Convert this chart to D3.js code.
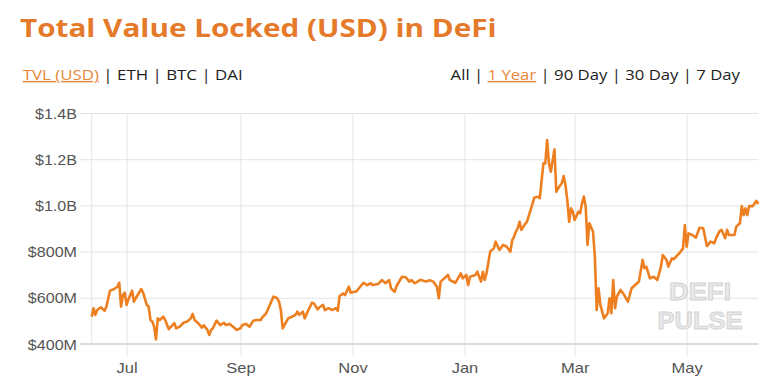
<!DOCTYPE html>
<html><head><meta charset="utf-8">
<script src="https://cdn.jsdelivr.net/npm/d3@7"></script>
<style>body{margin:0;background:#fff;} svg{display:block}</style>
</head><body>
<svg id="c" width="775" height="391"></svg>
<script>
const title = "Total Value Locked (USD) in DeFi";
const metricTabs = ["TVL (USD)", "ETH", "BTC", "DAI"];
const rangeTabs = ["All", "1 Year", "90 Day", "30 Day", "7 Day"];
const yTickValues = [400, 600, 800, 1000, 1200, 1400];
const yTickLabels = ["$400M", "$600M", "$800M", "$1.0B", "$1.2B", "$1.4B"];
const watermark = ["DEFI", "PULSE"];

const dates = [
"2019-06-12","2019-06-13","2019-06-14","2019-06-15","2019-06-17","2019-06-19","2019-06-20","2019-06-22","2019-06-24","2019-06-26",
"2019-06-27","2019-06-28","2019-06-29","2019-06-30","2019-07-01","2019-07-02","2019-07-04","2019-07-05","2019-07-06","2019-07-09",
"2019-07-10","2019-07-12","2019-07-13","2019-07-14","2019-07-15","2019-07-16","2019-07-17","2019-07-18","2019-07-19","2019-07-21",
"2019-07-22","2019-07-24","2019-07-26","2019-07-27","2019-07-28","2019-07-30","2019-08-01","2019-08-03","2019-08-05","2019-08-06",
"2019-08-07","2019-08-09","2019-08-11","2019-08-12","2019-08-14","2019-08-15","2019-08-16","2019-08-17","2019-08-19","2019-08-21",
"2019-08-23","2019-08-24","2019-08-26","2019-08-28","2019-08-30","2019-09-01","2019-09-02","2019-09-04","2019-09-06","2019-09-08",
"2019-09-10","2019-09-12","2019-09-13","2019-09-15","2019-09-17","2019-09-19","2019-09-21","2019-09-22","2019-09-23","2019-09-24",
"2019-09-26","2019-09-27","2019-09-29","2019-10-01","2019-10-02","2019-10-03","2019-10-05","2019-10-06","2019-10-08","2019-10-10",
"2019-10-11","2019-10-13","2019-10-14","2019-10-16","2019-10-17","2019-10-19","2019-10-21","2019-10-23","2019-10-24","2019-10-25",
"2019-10-27","2019-10-28","2019-10-30","2019-10-31","2019-11-02","2019-11-03","2019-11-07","2019-11-09","2019-11-11","2019-11-12",
"2019-11-15","2019-11-17","2019-11-19","2019-11-21","2019-11-22","2019-11-24","2019-11-25","2019-11-28","2019-11-30","2019-12-02",
"2019-12-03","2019-12-05","2019-12-08","2019-12-11","2019-12-13","2019-12-15","2019-12-17","2019-12-18","2019-12-19","2019-12-21",
"2019-12-23","2019-12-24","2019-12-27","2019-12-30","2019-12-31","2020-01-02","2020-01-03","2020-01-04","2020-01-07","2020-01-08",
"2020-01-10","2020-01-11","2020-01-12","2020-01-13","2020-01-15","2020-01-17","2020-01-18","2020-01-20","2020-01-22","2020-01-24",
"2020-01-26","2020-01-27","2020-01-28","2020-01-29","2020-01-30","2020-01-31","2020-02-01","2020-02-03","2020-02-04","2020-02-06",
"2020-02-08","2020-02-10","2020-02-11","2020-02-13","2020-02-14","2020-02-15","2020-02-16","2020-02-17","2020-02-19","2020-02-20",
"2020-02-21","2020-02-23","2020-02-24","2020-02-25","2020-02-26","2020-02-27","2020-02-28","2020-02-29","2020-03-01","2020-03-03",
"2020-03-04","2020-03-05","2020-03-06","2020-03-07","2020-03-08","2020-03-09","2020-03-11","2020-03-12","2020-03-13","2020-03-14",
"2020-03-15","2020-03-17","2020-03-19","2020-03-20","2020-03-21","2020-03-22","2020-03-23","2020-03-24","2020-03-26","2020-03-28",
"2020-03-30","2020-04-01","2020-04-04","2020-04-05","2020-04-07","2020-04-08","2020-04-09","2020-04-11","2020-04-13","2020-04-15",
"2020-04-16","2020-04-17","2020-04-18","2020-04-20","2020-04-21","2020-04-23","2020-04-24","2020-04-26","2020-04-27","2020-04-29",
"2020-04-30","2020-05-01","2020-05-02","2020-05-04","2020-05-06","2020-05-08","2020-05-10","2020-05-12","2020-05-14","2020-05-16",
"2020-05-17","2020-05-19","2020-05-20","2020-05-22","2020-05-23","2020-05-24","2020-05-27","2020-05-28","2020-05-30","2020-05-31",
"2020-06-01","2020-06-02","2020-06-03","2020-06-04","2020-06-06","2020-06-08","2020-06-09"
];
// TVL in millions of USD
const tvl = [
518,555,526,547,559,544,562,631,637,648,
665,562,612,622,569,594,631,583,598,638,
622,569,562,504,497,475,420,511,504,518,
504,464,482,490,468,475,492,497,511,530,
504,490,471,481,461,439,461,468,501,482,
492,482,487,475,461,468,482,487,475,501,
504,504,516,533,569,605,598,583,547,468,
497,511,518,526,540,526,540,511,547,579,
576,550,559,569,547,555,547,555,544,608,
619,612,648,622,626,626,665,655,663,655,
660,677,663,677,641,626,651,691,689,670,
677,663,678,670,676,670,648,598,670,684,
699,677,665,706,684,699,655,691,699,713,
670,713,677,706,800,814,843,807,829,821,
800,850,865,886,901,929,894,920,929,980,
1033,1038,1031,1182,1182,1283,1182,1146,1243,1059,
1074,1096,1127,1088,1023,929,987,973,937,973,
966,1009,1038,994,829,923,886,778,547,641,
569,511,533,598,533,677,555,605,634,612,
583,641,663,670,764,728,735,684,691,677,
706,735,785,764,735,771,767,785,793,814,
915,821,879,872,860,903,901,824,843,836,
858,890,894,858,894,872,872,908,923,997,
958,987,958,997,997,1020,1006
];

(function () {
const svg = d3.select("#c");
const parse = d3.timeParse("%Y-%m-%d");
const data = dates.map((d, i) => ({ date: parse(d), v: tvl[i] }));

const pLeft = 91.7, pRight = 758.3, pTop = 113, pBottom = 344;
const x = d3.scaleTime().domain(d3.extent(data, d => d.date)).range([pLeft, pRight]);
const y = d3.scaleLinear().domain([400, 1400]).range([pBottom, pTop]);

const gridColor = "#e4e4e4";
const labelColor = "#555555";
const orange = "#ee7f20";

function fitX(sel, targetW, anchorX, anchorY) {
  const w = sel.node().getBBox().width;
  const k = targetW / w;
  sel.attr("transform", `translate(${anchorX},${anchorY}) scale(${k},1)`);
}

// Title
const t = svg.append("text")
  .attr("x", 0).attr("y", 0)
  .attr("font-family", "'Open Sans', sans-serif")
  .attr("font-weight", 700)
  .attr("font-size", 25.5)
  .attr("fill", "#e57a2a")
  .text(title);
fitX(t, 477, 20, 37);

// Metric tabs
const mt = svg.append("text").attr("x", 0).attr("y", 0)
  .attr("font-family", "'Open Sans', sans-serif").attr("font-size", 14);
metricTabs.forEach((m, i) => {
  if (i > 0) mt.append("tspan").attr("fill", "#1e1e1e").text(" | ");
  mt.append("tspan")
    .attr("fill", i === 0 ? "#e8873a" : "#1e1e1e")
    .attr("text-decoration", i === 0 ? "underline" : null)
    .text(m);
});
fitX(mt, 220, 22.7, 80);

// Range tabs
const rt = svg.append("text").attr("x", 0).attr("y", 0)
  .attr("font-family", "'Open Sans', sans-serif").attr("font-size", 14)
  .attr("text-anchor", "end");
rangeTabs.forEach((m, i) => {
  if (i > 0) rt.append("tspan").attr("fill", "#1e1e1e").text(" | ");
  rt.append("tspan")
    .attr("fill", i === 1 ? "#e8873a" : "#1e1e1e")
    .attr("text-decoration", i === 1 ? "underline" : null)
    .text(m);
});
fitX(rt, 291, 740, 80);

// Horizontal grid + y labels
const yAxis = svg.append("g").attr("transform", "translate(80,0)")
  .call(d3.axisLeft(y).tickValues(yTickValues)
    .tickSize(-(pRight - 80))
    .tickPadding(3)
    .tickFormat((d, i) => yTickLabels[i]));
yAxis.select(".domain").remove();
yAxis.selectAll(".tick line").attr("stroke", gridColor);
yAxis.selectAll(".tick text")
  .attr("font-family", "'Liberation Sans', Arial, sans-serif")
  .attr("font-size", 14)
  .attr("fill", labelColor)
  .attr("dy", "0.36em")
  .attr("transform", "scale(1.15,1)")
  .attr("x", -3 / 1.15);

// Vertical grid + x labels
const xAxis = svg.append("g").attr("transform", `translate(0,${pBottom})`)
  .call(d3.axisBottom(x).ticks(d3.timeMonth.every(2))
    .tickFormat(d3.timeFormat("%b"))
    .tickSize(0));
xAxis.select(".domain").remove();
xAxis.selectAll(".tick line")
  .attr("y1", 12).attr("y2", -(pBottom - pTop))
  .attr("stroke", gridColor);
xAxis.selectAll(".tick text")
  .attr("font-family", "'Liberation Sans', Arial, sans-serif")
  .attr("font-size", 14)
  .attr("fill", labelColor)
  .attr("y", 0).attr("dy", 0)
  .attr("transform", "translate(0,28.5) scale(1.18,1)");

// left axis line
svg.append("line")
  .attr("x1", pLeft).attr("x2", pLeft).attr("y1", pTop).attr("y2", pBottom)
  .attr("stroke", gridColor);
// bottom axis line
svg.append("line")
  .attr("x1", 80).attr("x2", pRight).attr("y1", pBottom).attr("y2", pBottom)
  .attr("stroke", "#dadada").attr("stroke-width", 2);

// Watermark
const wmW = [62, 85];
const wmBase = [300, 328.5];
watermark.forEach((w, i) => {
  svg.append("text")
    .attr("x", 700)
    .attr("y", wmBase[i])
    .attr("text-anchor", "middle")
    .attr("font-family", "'Liberation Sans', Arial, sans-serif")
    .attr("font-weight", 700)
    .attr("font-size", 24.5)
    .attr("fill", "#e9e9e9")
    .attr("stroke", "#d2d2d2")
    .attr("stroke-width", 0.9)
    .attr("textLength", wmW[i])
    .attr("lengthAdjust", "spacingAndGlyphs")
    .text(w);
});

// Line
svg.append("path")
  .datum(data)
  .attr("fill", "none")
  .attr("stroke", orange)
  .attr("stroke-width", 2.6)
  .attr("stroke-linejoin", "round")
  .attr("d", d3.line().x(d => x(d.date)).y(d => y(d.v)));
})();
</script>
</body></html>
